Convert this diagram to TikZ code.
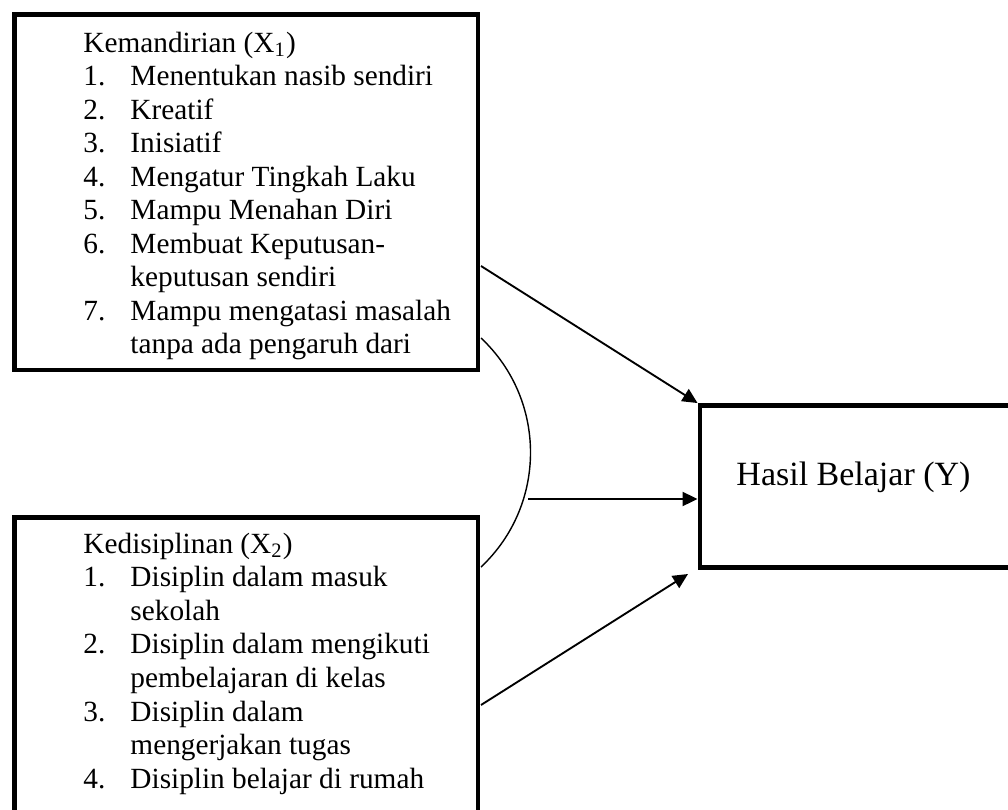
\documentclass[tikz,border=0pt]{standalone}
\usepackage{fontspec}
\setmainfont{Liberation Serif}
\usetikzlibrary{arrows.meta,fit,calc}
\begin{document}
\begin{tikzpicture}[x=0.015cm,y=-0.015cm,
  box/.style={draw,line width=2.1pt,inner sep=0pt},
  txt/.style={anchor=base west,inner sep=0pt,font=\fontsize{12.5}{14}\selectfont},
  arr/.style={-{Triangle[length=6.4pt,width=6pt]},line width=0.8pt}]
\clip (0,0) rectangle (1008,809);
\node[box,fit={(14.5,14.5) (478,370)}] (kem) {};
\node[box,fit={(14.5,517.5) (478,860)}] (dis) {};
\node[box,fit={(700,405.5) (1040,567.5)}] (hb) {};
\begin{scope}
\clip (14.5,14.5) rectangle (478,359);
\node[txt] (kemt) at (83,52) {Kemandirian (X\textsubscript{1})};
\foreach \no/\t [count=\i] in {1./Menentukan nasib sendiri,2./Kreatif,3./Inisiatif,4./Mengatur Tingkah Laku,5./Mampu Menahan Diri,6./Membuat Keputusan-,/keputusan sendiri,7./Mampu mengatasi masalah,/tanpa ada pengaruh dari}
{
\node[txt] (kn\i) at (83,52+33.5*\i) {\no};
\node[txt] (ki\i) at (130,52+33.5*\i) {\t};
}
\end{scope}
\node[txt] (dist) at (83,553) {Kedisiplinan (X\textsubscript{2})};
\foreach \no/\t [count=\i] in {1./Disiplin dalam masuk,/sekolah,2./Disiplin dalam mengikuti,/pembelajaran di kelas,3./Disiplin dalam,/mengerjakan tugas,4./Disiplin belajar di rumah}
{
\node[txt] (dn\i) at (83,553+33.6*\i) {\no};
\node[txt] (di\i) at (130,553+33.6*\i) {\t};
}
\node[txt,font=\fontsize{14.5}{16}\selectfont] (hbt) at (736,485) {Hasil Belajar (Y)};
\coordinate (a1) at (481,266);
\coordinate (a2) at (481,705);
\coordinate (c1) at (481,338);
\coordinate (c2) at (481,567);
\coordinate (m1) at (528,499);
\coordinate (t2) at (688,574);
\draw[arr] (a1) -- (hb.north west);
\draw[arr] (m1) -- (m1 -| hb.west);
\draw[arr] (a2) -- (t2);
\draw[line width=0.6pt] (c1) .. controls (547,400) and (547,505) .. (c2);
\end{tikzpicture}
\end{document}
